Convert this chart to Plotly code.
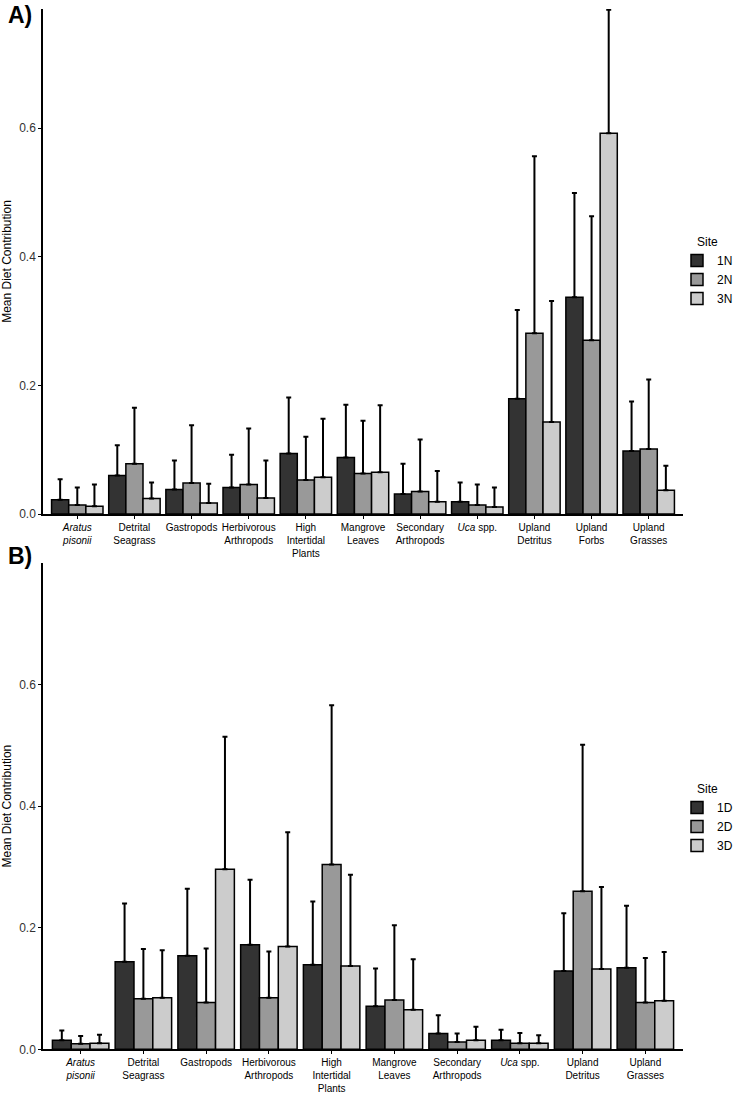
import plotly.graph_objects as go

# diet source categories (panel A has Upland Forbs, panel B does not)
sources_a = ['Aratus pisonii', 'Detrital Seagrass', 'Gastropods', 'Herbivorous Arthropods',
             'High Intertidal Plants', 'Mangrove Leaves', 'Secondary Arthropods', 'Uca spp.',
             'Upland Detritus', 'Upland Forbs', 'Upland Grasses']
sources_b = [s for s in sources_a if s != 'Upland Forbs']

tick_text = {
    'Aratus pisonii': '<i>Aratus</i><br><i>pisonii</i>',
    'Detrital Seagrass': 'Detrital<br>Seagrass',
    'Gastropods': 'Gastropods',
    'Herbivorous Arthropods': 'Herbivorous<br>Arthropods',
    'High Intertidal Plants': 'High<br>Intertidal<br>Plants',
    'Mangrove Leaves': 'Mangrove<br>Leaves',
    'Secondary Arthropods': 'Secondary<br>Arthropods',
    'Uca spp.': '<i>Uca</i> spp.',
    'Upland Detritus': 'Upland<br>Detritus',
    'Upland Forbs': 'Upland<br>Forbs',
    'Upland Grasses': 'Upland<br>Grasses',
}

# A) means and upper error bar ends
mean_1n = [0.022, 0.060, 0.038, 0.041, 0.094, 0.088, 0.031, 0.019, 0.179, 0.337, 0.098]
mean_2n = [0.014, 0.078, 0.048, 0.046, 0.053, 0.063, 0.035, 0.014, 0.281, 0.270, 0.101]
mean_3n = [0.012, 0.024, 0.017, 0.025, 0.057, 0.065, 0.019, 0.011, 0.143, 0.592, 0.037]
top_1n = [0.054, 0.107, 0.083, 0.092, 0.181, 0.170, 0.078, 0.049, 0.317, 0.499, 0.175]
top_2n = [0.041, 0.165, 0.138, 0.133, 0.120, 0.145, 0.116, 0.046, 0.556, 0.463, 0.209]
top_3n = [0.046, 0.049, 0.047, 0.083, 0.148, 0.169, 0.067, 0.041, 0.331, 0.784, 0.075]

# B) means and upper error bar ends
mean_1d = [0.015, 0.144, 0.154, 0.172, 0.139, 0.071, 0.026, 0.015, 0.129, 0.134]
mean_2d = [0.009, 0.083, 0.077, 0.085, 0.304, 0.081, 0.012, 0.010, 0.260, 0.077]
mean_3d = [0.010, 0.085, 0.296, 0.169, 0.137, 0.065, 0.015, 0.010, 0.132, 0.080]
top_1d = [0.031, 0.240, 0.264, 0.279, 0.243, 0.133, 0.056, 0.032, 0.224, 0.236]
top_2d = [0.022, 0.165, 0.166, 0.161, 0.566, 0.204, 0.026, 0.027, 0.501, 0.150]
top_3d = [0.024, 0.163, 0.514, 0.357, 0.287, 0.148, 0.037, 0.023, 0.267, 0.160]

fills = ['#333333', '#999999', '#cccccc']
FONT = 'Liberation Sans, Arial, sans-serif'

W, H = 738, 1115
L, R = 43, 51          # plot area runs from x=43 to x=687 px
PW = W - L - R


def px_x(px):
    # pixel column -> paper x
    return (px - L) / PW


def px_y(px):
    # pixel row (from top) -> paper y
    return 1 - px / H


fig = go.Figure()

panel_a = [('1N', mean_1n, top_1n), ('2N', mean_2n, top_2n), ('3N', mean_3n, top_3n)]
panel_b = [('1D', mean_1d, top_1d), ('2D', mean_2d, top_2d), ('3D', mean_3d, top_3d)]

for (name, m, t), col in zip(panel_a, fills):
    fig.add_trace(go.Bar(
        x=sources_a, y=m, name=name, xaxis='x', yaxis='y', legend='legend',
        marker=dict(color=col, line=dict(color='black', width=1.5)),
        error_y=dict(type='data', symmetric=False,
                     array=[b - a for a, b in zip(m, t)], arrayminus=[0] * len(m),
                     color='black', thickness=2, width=2.5),
    ))

for (name, m, t), col in zip(panel_b, fills):
    fig.add_trace(go.Bar(
        x=sources_b, y=m, name=name, xaxis='x2', yaxis='y2', legend='legend2',
        marker=dict(color=col, line=dict(color='black', width=1.5)),
        error_y=dict(type='data', symmetric=False,
                     array=[b - a for a, b in zip(m, t)], arrayminus=[0] * len(m),
                     color='black', thickness=2, width=2.5),
    ))

common_x = dict(showline=True, linecolor='black', linewidth=1.5, ticks='outside',
                ticklen=3, tickcolor='black', showgrid=False, zeroline=False,
                tickfont=dict(size=10, color='black'), tickangle=0, automargin=False)
common_y = dict(showline=True, linecolor='black', linewidth=1.5, ticks='outside',
                ticklen=3, tickcolor='black', showgrid=False, zeroline=False,
                tickfont=dict(size=12, color='#333333'), tickformat='.1f',
                tickvals=[0, 0.2, 0.4, 0.6], automargin=False,
                title=dict(text='Mean Diet Contribution', font=dict(size=12, color='black'),
                           standoff=6))

legend_common = dict(x=px_x(681), xanchor='left', yanchor='middle', bgcolor='rgba(0,0,0,0)',
                     font=dict(size=12, color='black'), itemwidth=30, tracegroupgap=0,
                     title=dict(font=dict(size=12, color='black'), side='top center'))

fig.update_layout(
    width=W, height=H,
    margin=dict(l=L, r=R, t=0, b=0),
    paper_bgcolor='white', plot_bgcolor='white',
    font=dict(family=FONT, color='black'),
    barmode='group', bargap=0.1, bargroupgap=0,
    xaxis=dict(common_x, domain=[0, 1], anchor='y', range=[-0.6, 10.6],
               tickvals=sources_a, ticktext=[tick_text[s] for s in sources_a]),
    yaxis=dict(common_y, domain=[px_y(514), px_y(9)], anchor='x', range=[0, 0.785]),
    xaxis2=dict(common_x, domain=[0, 1], anchor='y2', range=[-0.6, 9.6],
                tickvals=sources_b, ticktext=[tick_text[s] for s in sources_b]),
    yaxis2=dict(common_y, domain=[px_y(1049.3), px_y(563)], anchor='x2', range=[0, 0.80]),
    legend=dict(legend_common, y=px_y(272), title_text='Site'),
    legend2=dict(legend_common, y=px_y(819), title_text='Site'),
    showlegend=True,
)

fig.add_annotation(text='<b>A)</b>', x=px_x(6), y=px_y(15), xref='paper', yref='paper',
                   xanchor='left', yanchor='middle', showarrow=False,
                   font=dict(size=23, color='black', family=FONT))
fig.add_annotation(text='<b>B)</b>', x=px_x(6), y=px_y(556), xref='paper', yref='paper',
                   xanchor='left', yanchor='middle', showarrow=False,
                   font=dict(size=23, color='black', family=FONT))

# drop the browser's default 8px body margin so the figure sits at the page corner
fig.write_html('out.html', config={'displayModeBar': False},
               post_script="document.body.style.margin='0';")
